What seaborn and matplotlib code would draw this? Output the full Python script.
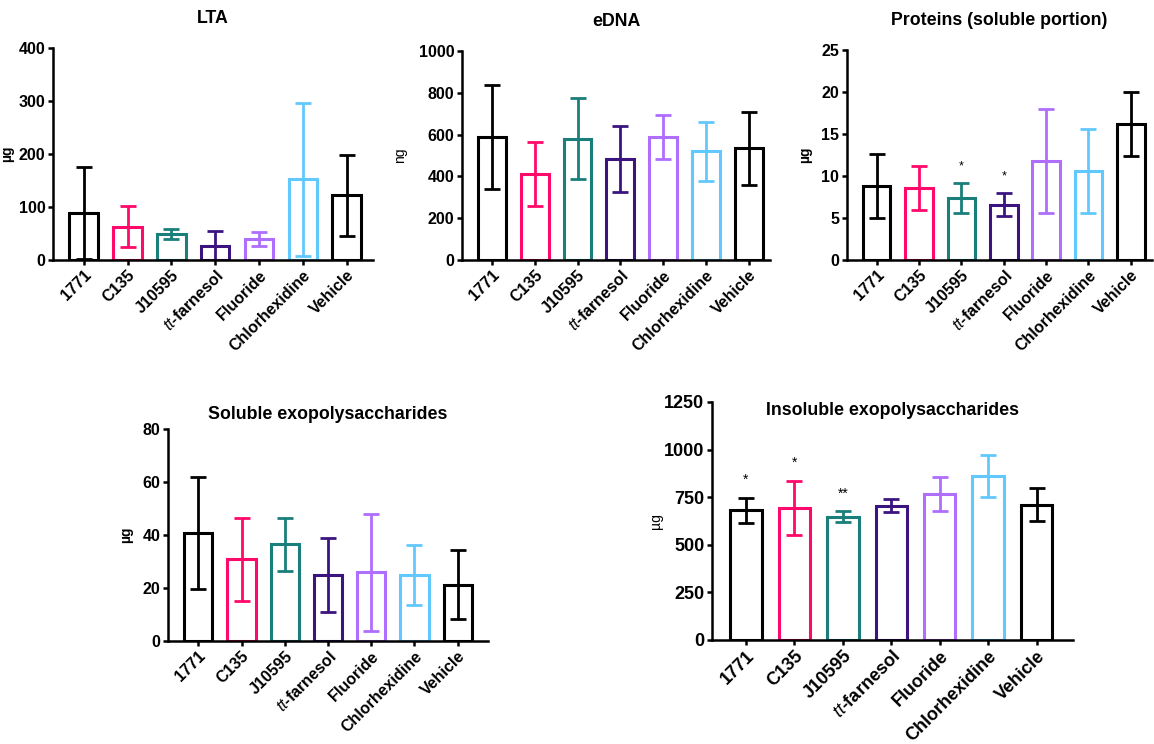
import seaborn as sns
import matplotlib.pyplot as plt

sns.set_style('white')
plt.rcParams['font.family'] = ['Liberation Sans', 'DejaVu Sans']
plt.rcParams['mathtext.fontset'] = 'custom'
plt.rcParams['mathtext.it'] = 'Liberation Sans:italic'
plt.rcParams['mathtext.rm'] = 'Liberation Sans'
plt.rcParams['text.color'] = 'black'
plt.rcParams['axes.labelcolor'] = 'black'

# grupos e cores
groups = ['1771', 'C135', 'J10595', r'$\mathit{tt}$-farnesol', 'Fluoride', 'Chlorhexidine', 'Vehicle']
colors = ['#000000', '#FF0A6A', '#1A7F7A', '#3C1480', '#B06EFF', '#62C9FF', '#000000']

# médias e desvios
lta_mean = [88, 63, 49, 27, 40, 152, 122]
lta_sd = [87, 38, 10, 27, 13, 145, 76]

edna_mean = [589, 411, 581, 484, 589, 521, 534]
edna_sd = [247, 153, 194, 158, 106, 141, 173]

prot_mean = [8.8, 8.6, 7.4, 6.6, 11.8, 10.6, 16.2]
prot_sd = [3.85, 2.6, 1.75, 1.35, 6.2, 5.0, 3.8]
prot_stars = ['', '', '*', '*', '', '', '']

seps_mean = [40.7, 30.9, 36.6, 24.9, 25.9, 25.0, 21.3]
seps_sd = [21.0, 15.7, 10.0, 14.0, 22.0, 11.3, 13.0]

ieps_mean = [682, 694, 647, 706, 767, 860, 710]
ieps_sd = [65, 140, 28, 33, 89, 110, 86]
ieps_stars = ['*', '*', '**', '', '', '', '']

W, H = 1154, 744


def rect(l, t, r, b):
    return [l / W, (H - b) / H, (r - l) / W, (b - t) / H]


fig = plt.figure(figsize=(W / 100, H / 100), dpi=100)


def panel(box, title, unit, means, sds, ymax, step, stars=None, fs=11.5, tfs=12.8,
          title_inside=False, pad=16, ylab_x=-0.12, unit_bold=True, xmax=6.6, sfs=9):
    ax = fig.add_axes(rect(*box))
    sns.barplot(x=groups, y=means, hue=groups, palette=colors, fill=False,
                linewidth=2.2, width=0.65, errorbar=None, legend=False, ax=ax)
    for i, (m, s, c) in enumerate(zip(means, sds, colors)):
        ax.errorbar(i, m, yerr=s, fmt='none', ecolor=c, elinewidth=2,
                    capsize=6, capthick=2)
        if stars and stars[i]:
            ax.annotate(stars[i], (i, m + s), xytext=(0, 8), textcoords='offset points',
                        ha='center', va='bottom', fontsize=sfs)
    ax.set_ylim(0, ymax)
    ax.set_xlim(-0.7, xmax)
    ax.set_yticks([step * k for k in range(int(round(ymax / step)) + 1)])
    sns.despine(ax=ax)
    for sp in ['left', 'bottom']:
        ax.spines[sp].set_linewidth(1.8)
        ax.spines[sp].set_color('black')
    ax.tick_params(axis='both', direction='out', length=3.5, width=1.8, pad=2,
                   colors='black', labelsize=fs, left=True, bottom=True)
    for lab in ax.get_yticklabels():
        lab.set_fontweight('bold')
    ax.set_xticks(range(len(groups)))
    ax.set_xticklabels(groups, rotation=45, ha='right', rotation_mode='anchor',
                       fontweight='bold', fontsize=fs)
    ax.set_xlabel('')
    ax.set_ylabel(unit, fontsize=10, fontweight='bold' if unit_bold else 'normal')
    ax.yaxis.set_label_coords(ylab_x, 0.5)
    if title_inside:
        ax.set_title(title, fontsize=tfs, fontweight='bold', y=0.965, va='top')
    else:
        ax.set_title(title, fontsize=tfs, fontweight='bold', pad=pad)
    return ax


panel((53, 48, 373, 260), 'LTA', 'µg', lta_mean, lta_sd, 400, 100, pad=18, ylab_x=-0.12)
panel((462, 51, 770, 260), 'eDNA', 'ng', edna_mean, edna_sd, 1000, 200, pad=18,
      ylab_x=-0.18, unit_bold=False, xmax=6.5)
panel((847, 50, 1152, 260), 'Proteins (soluble portion)', 'µg', prot_mean, prot_sd,
      25, 5, stars=prot_stars, pad=18, ylab_x=-0.115, xmax=6.5)
panel((168, 429, 488, 641), 'Soluble exopolysaccharides', 'µg', seps_mean, seps_sd,
      80, 20, pad=7, ylab_x=-0.11, xmax=6.7)
panel((712, 402, 1073, 640), 'Insoluble exopolysaccharides', 'µg', ieps_mean, ieps_sd,
      1250, 250, stars=ieps_stars, fs=13, title_inside=True, ylab_x=-0.135,
      unit_bold=False, xmax=6.75, sfs=10)

fig.savefig('out.png', dpi=100, facecolor='white')
